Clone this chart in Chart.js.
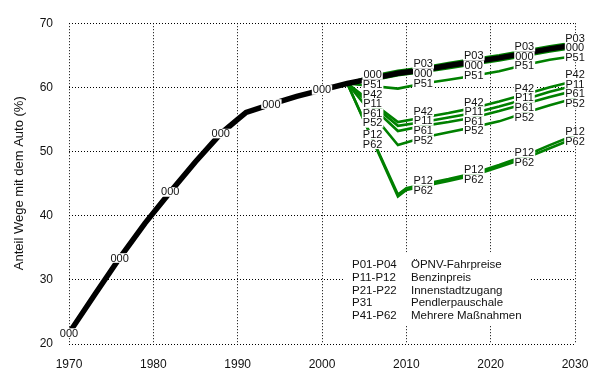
<!DOCTYPE html>
<html>
<head>
<meta charset="utf-8">
<script src="https://cdn.jsdelivr.net/npm/chart.js@4.4.1/dist/chart.umd.min.js"></script>
<style>
  html, body { margin: 0; padding: 0; background: #fff; }
  #wrap { width: 604px; height: 378px; }
</style>
</head>
<body>
<div id="wrap"><canvas id="c"></canvas></div>
<script>
// Reference trend 000 (history and continuation)
const baseYears = [1970, 1973, 1976, 1979, 1982, 1985, 1988, 1990, 1991, 1994, 1997, 2000, 2003, 2006, 2009, 2012, 2015, 2018, 2021, 2024, 2027, 2030];
const base000 = [21.7, 27.6, 33.4, 38.8, 43.7, 48.4, 52.8, 55.0, 56.1, 57.4, 58.6, 59.6, 60.6, 61.4, 62.2, 62.7, 63.4, 64.0, 64.6, 65.3, 66.0, 66.6];

// Public transport fare scenarios
const transitYears = [2003, 2006, 2009, 2012, 2015, 2018, 2021, 2024, 2027, 2030];
const p03 = [60.6, 61.8, 62.6, 63.1, 63.8, 64.4, 65.0, 65.7, 66.4, 67.0];
const p01 = [60.6, 61.1, 61.9, 62.4, 63.0, 63.6, 64.2, 64.9, 65.6, 66.2];

// Combined-measure scenarios
const scenarioYears = [2003, 2009, 2012, 2015, 2018, 2021, 2024, 2027, 2030];
const p51 = [60.6, 59.8, 60.6, 61.2, 61.8, 62.5, 63.5, 64.3, 64.9];
const p42 = [60.6, 54.6, 55.3, 56.0, 56.8, 57.8, 58.9, 60.0, 61.0];
const p11 = [60.6, 54.0, 54.6, 55.3, 56.0, 57.0, 58.1, 59.3, 60.3];
const p61 = [60.6, 53.2, 54.0, 54.6, 55.3, 56.3, 57.4, 58.5, 59.5];
const p52 = [60.6, 51.0, 52.2, 53.0, 53.8, 54.7, 56.0, 57.2, 58.3];

// Fuel price scenarios
const fuelYears = [2003, 2009, 2010, 2012, 2015, 2018, 2021, 2024, 2027, 2030];
const p12 = [60.6, 43.3, 44.3, 44.9, 45.7, 46.6, 47.9, 49.3, 51.0, 52.6];
const p62 = [60.6, 43.0, 44.0, 44.6, 45.4, 46.3, 47.6, 48.9, 50.5, 52.1];

// Years at which the series names are written onto the lines
const baseLabelYears = [1970, 1976, 1982, 1988, 1994, 2000, 2006, 2012, 2018, 2024, 2030];
const scenarioLabelYears = [2006, 2012, 2018, 2024, 2030];
const p03LabelYears = [2012, 2018, 2024, 2030];

const xTicks = [1970, 1980, 1990, 2000, 2010, 2020, 2030];
const yTicks = [20, 30, 40, 50, 60, 70];
const yTitle = 'Anteil Wege mit dem Auto (%)';

const legendCodes = ['P01-P04', 'P11-P12', 'P21-P22', 'P31', 'P41-P62'];
const legendNames = ['ÖPNV-Fahrpreise', 'Benzinpreis', 'Innenstadtzugang', 'Pendlerpauschale', 'Mehrere Maßnahmen'];

const GREEN = '#008000';
const INK = '#111';
const FONT = '"Liberation Sans", Arial, sans-serif';

function pts(xs, ys) { return xs.map((x, i) => ({ x: x, y: ys[i] })); }

function series(name, xs, ys, color, width, labelYears) {
  return {
    label: name,
    data: pts(xs, ys),
    borderColor: color,
    backgroundColor: color,
    borderWidth: width,
    pointRadius: 0,
    pointHoverRadius: 0,
    tension: 0,
    fill: false,
    borderJoinStyle: 'miter',
    labelYears: labelYears
  };
}

// first dataset is drawn last (on top)
const datasets = [
  series('000', baseYears, base000, '#000', 5.5, baseLabelYears),
  series('P03', transitYears, p03, GREEN, 2.6, p03LabelYears),
  series('P01', transitYears, p01, GREEN, 2.6, []),
  series('P51', scenarioYears, p51, GREEN, 2.6, scenarioLabelYears),
  series('P42', scenarioYears, p42, GREEN, 2.6, scenarioLabelYears),
  series('P11', scenarioYears, p11, GREEN, 2.6, scenarioLabelYears),
  series('P61', scenarioYears, p61, GREEN, 2.6, scenarioLabelYears),
  series('P52', scenarioYears, p52, GREEN, 2.6, scenarioLabelYears),
  series('P12', fuelYears, p12, GREEN, 2.6, scenarioLabelYears),
  series('P62', fuelYears, p62, GREEN, 2.6, scenarioLabelYears)
];

function valueAt(data, year) {
  for (let i = 0; i < data.length - 1; i++) {
    const a = data[i], b = data[i + 1];
    if (year >= a.x && year <= b.x) {
      return a.y + (b.y - a.y) * (year - a.x) / (b.x - a.x);
    }
  }
  return null;
}

// Writes series names onto the lines, stacking crowded names into columns
const lineLabels = {
  id: 'lineLabels',
  afterDatasetsDraw(chart) {
    const ctx = chart.ctx;
    const xs = chart.scales.x, ys = chart.scales.y;
    const STEP = 9.6;
    const byYear = {};
    chart.data.datasets.forEach(ds => {
      (ds.labelYears || []).forEach(yr => {
        const v = valueAt(ds.data, yr);
        if (v === null) return;
        (byYear[yr] = byYear[yr] || []).push({ text: ds.label, want: ys.getPixelForValue(v) });
      });
    });
    ctx.save();
    ctx.font = '11px ' + FONT;
    ctx.textAlign = 'center';
    ctx.textBaseline = 'middle';
    Object.keys(byYear).forEach(yr => {
      const items = byYear[yr].sort((a, b) => a.want - b.want);
      let groups = items.map(it => ({ items: [it] }));
      const place = g => {
        const mean = g.items.reduce((s, it) => s + it.want, 0) / g.items.length;
        g.top = mean - (g.items.length - 1) * STEP / 2;
        g.bottom = g.top + (g.items.length - 1) * STEP;
      };
      groups.forEach(place);
      let merged = true;
      while (merged) {
        merged = false;
        for (let i = 0; i < groups.length - 1; i++) {
          if (groups[i + 1].top - groups[i].bottom < STEP) {
            groups[i].items = groups[i].items.concat(groups[i + 1].items);
            groups.splice(i + 1, 1);
            place(groups[i]);
            merged = true;
            break;
          }
        }
      }
      const cx = xs.getPixelForValue(+yr);
      const placed = [];
      groups.forEach(g => g.items.forEach((it, k) => placed.push({ text: it.text, y: g.top + k * STEP })));
      ctx.fillStyle = '#fff';
      placed.forEach(p => {
        const w = ctx.measureText(p.text).width + 2;
        ctx.fillRect(cx - w / 2, p.y - STEP / 2, w, STEP);
      });
      ctx.fillStyle = INK;
      placed.forEach(p => ctx.fillText(p.text, cx, p.y + 0.5));
    });
    ctx.restore();
  }
};

// Key of scenario codes on a white panel inside the plot, plus the y-axis title
const codeKey = {
  id: 'codeKey',
  afterDatasetsDraw(chart) {
    const ctx = chart.ctx;
    const a = chart.chartArea;
    const left = a.left + 276, top = a.top + 229;
    ctx.save();
    ctx.fillStyle = '#fff';
    ctx.fillRect(left, top, 185, 73);
    ctx.fillStyle = INK;
    ctx.font = '11.5px ' + FONT;
    ctx.textAlign = 'left';
    ctx.textBaseline = 'middle';
    legendCodes.forEach((c, i) => {
      const y = top + 13 + i * 12.6;
      ctx.fillText(c, left + 7, y);
      ctx.fillText(legendNames[i], left + 66, y);
    });
    ctx.translate(19.5, a.top + 160);
    ctx.rotate(-Math.PI / 2);
    ctx.textAlign = 'center';
    ctx.font = '13px ' + FONT;
    ctx.fillText(yTitle, 0, 0);
    ctx.restore();
  }
};

new Chart(document.getElementById('c'), {
  type: 'line',
  data: { datasets: datasets },
  options: {
    responsive: true,
    maintainAspectRatio: false,
    animation: false,
    events: [],
    layout: { padding: { left: 0, right: 29, top: 10, bottom: 0 } },
    plugins: { legend: { display: false }, tooltip: { enabled: false } },
    scales: {
      x: {
        type: 'linear',
        min: 1970,
        max: 2030,
        afterBuildTicks: s => { s.ticks = xTicks.map(v => ({ value: v })); },
        afterFit: s => { s.height = 34; },
        grid: { color: '#000', lineWidth: 1, drawTicks: false },
        border: { display: false, dash: [1, 2] },
        ticks: {
          padding: 13,
          color: INK,
          font: { family: FONT, size: 12 },
          maxRotation: 0,
          callback: v => String(v)
        }
      },
      y: {
        type: 'linear',
        min: 20,
        max: 70,
        afterBuildTicks: s => { s.ticks = yTicks.map(v => ({ value: v })); },
        afterFit: s => { s.width = 69; },
        grid: { color: '#000', lineWidth: 1, drawTicks: false },
        border: { display: false, dash: [1, 2] },
        ticks: {
          padding: 16,
          color: INK,
          font: { family: FONT, size: 12 },
          callback: v => String(v)
        }
      }
    }
  },
  plugins: [lineLabels, codeKey]
});
</script>
</body>
</html>
